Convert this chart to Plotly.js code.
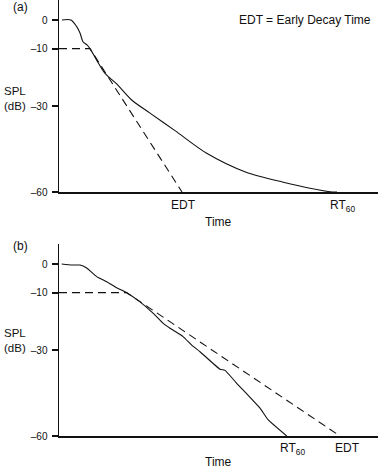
<!DOCTYPE html>
<html>
<head>
<meta charset="utf-8">
<script src="https://cdn.plot.ly/plotly-3.0.1.min.js"></script>
<style>html,body{margin:0;padding:0;background:#fff;}#chart{width:378px;height:468px;}</style>
</head>
<body>
<div id="chart"></div>
<script>
// Panel (a): decay curve (time in arbitrary units, SPL in dB)
const timeA = [3, 12, 17.7, 21, 24, 28, 31, 37.7, 46, 57.7, 72.7, 91, 116, 147.7, 187.7, 224.3, 251, 271, 278];
const splA  = [0, 0, -2.3, -4.5, -7.6, -8.7, -10.0, -14.0, -18.6, -22.3, -27.9, -32.5, -38.6, -46.5, -53.2, -56.6, -58.7, -59.9, -60];
// Panel (a): EDT extrapolation line
const edtLineTimeA = [0, 31, 123];
const edtLineSplA  = [-10, -10, -60];
const edtA = 124, rt60A = 283;

// Panel (b): decay curve
const timeB = [2.7, 12.7, 21, 27.7, 37.7, 47.7, 57.7, 67.7, 81, 94.3, 104.3, 111, 124.3, 132.7, 141, 161, 166, 177.7, 201, 209.3, 227.7];
const splB  = [0, -0.35, -0.35, -1.4, -4.4, -6.2, -8.3, -10, -13.2, -17.2, -20.7, -22.4, -25.4, -28.3, -30.6, -36.7, -37.1, -41.6, -50.3, -54.4, -60];
// Panel (b): EDT extrapolation line
const edtLineTimeB = [0, 67.7, 281];
const edtLineSplB  = [-10, -10, -60];
const edtB = 288, rt60B = 233;

const yTickVals = [0, -10, -30, -60];
const yTickText = ['0', '\u201310', '\u201330', '\u201360'];

const FONT = 'Liberation Sans, Arial, Helvetica, sans-serif';
const dashed = {color: '#111', width: 1.1, dash: '8px,5px'};

const traces = [
  {x: edtLineTimeA, y: edtLineSplA, xaxis: 'x', yaxis: 'y', mode: 'lines', line: dashed, hoverinfo: 'skip'},
  {x: timeA, y: splA, xaxis: 'x', yaxis: 'y', mode: 'lines', line: {color: '#111', width: 1.1, shape: 'spline', smoothing: 0.8}, hoverinfo: 'skip'},
  {x: edtLineTimeB, y: edtLineSplB, xaxis: 'x2', yaxis: 'y2', mode: 'lines', line: dashed, hoverinfo: 'skip'},
  {x: timeB, y: splB, xaxis: 'x2', yaxis: 'y2', mode: 'lines', line: {color: '#111', width: 1.1, shape: 'spline', smoothing: 0.4}, hoverinfo: 'skip'}
];

const xBase = {
  domain: [59/378, 1], range: [0, 319], showline: true, linecolor: '#111', linewidth: 1.5,
  showgrid: false, zeroline: false, showticklabels: false, ticks: '', fixedrange: true
};
const yBase = {
  range: [-60, 6.98], showline: true, linecolor: '#111', linewidth: 1.5,
  showgrid: false, zeroline: false, ticks: 'outside', ticklen: 6, tickwidth: 2, tickcolor: '#111',
  tickvals: yTickVals, ticktext: yTickText, tickfont: {family: FONT, size: 10, color: '#111'},
  ticklabelstandoff: 2, fixedrange: true
};

function ann(text, x, y, xref, opts) {
  return Object.assign({text: text, x: x, y: y, xref: xref, yref: 'paper', showarrow: false,
    font: {family: FONT, size: 12, color: '#111'}, xanchor: 'center', yanchor: 'middle'}, opts || {});
}

const layout = {
  width: 378, height: 468, margin: {l: 0, r: 0, t: 0, b: 0},
  paper_bgcolor: '#fff', plot_bgcolor: '#fff', showlegend: false,
  xaxis: Object.assign({}, xBase, {anchor: 'y'}),
  yaxis: Object.assign({}, yBase, {domain: [276/468, 1], anchor: 'x'}),
  xaxis2: Object.assign({}, xBase, {anchor: 'y2'}),
  yaxis2: Object.assign({}, yBase, {domain: [32/468, 224/468], anchor: 'x2'}),
  annotations: [
    ann('(a)', 20.8/378, 1 - 7.5/468, 'paper'),
    ann('(b)', 20.8/378, 1 - 246/468, 'paper'),
    ann('EDT = Early Decay Time', 237/378, 1 - 20/468, 'paper', {xanchor: 'left'}),
    ann('SPL<br>(dB)', 2/378, 1 - 98/468, 'paper', {xanchor: 'left', align: 'left', font: {family: FONT, size: 11.5, color: '#111'}}),
    ann('SPL<br>(dB)', 2/378, 1 - 340.5/468, 'paper', {xanchor: 'left', align: 'left', font: {family: FONT, size: 11.5, color: '#111'}}),
    ann('EDT', edtA, 1 - 205/468, 'x'),
    ann('RT<sub>60</sub>', rt60A, 1 - 206/468, 'x'),
    ann('Time', 218.5 - 59, 1 - 222/468, 'x'),
    ann('RT<sub>60</sub>', rt60B, 1 - 449/468, 'x2'),
    ann('EDT', edtB, 1 - 448/468, 'x2'),
    ann('Time', 218.5 - 59, 1 - 462/468, 'x2')
  ]
};

Plotly.newPlot('chart', traces, layout, {staticPlot: true, displayModeBar: false});
</script>
</body>
</html>
